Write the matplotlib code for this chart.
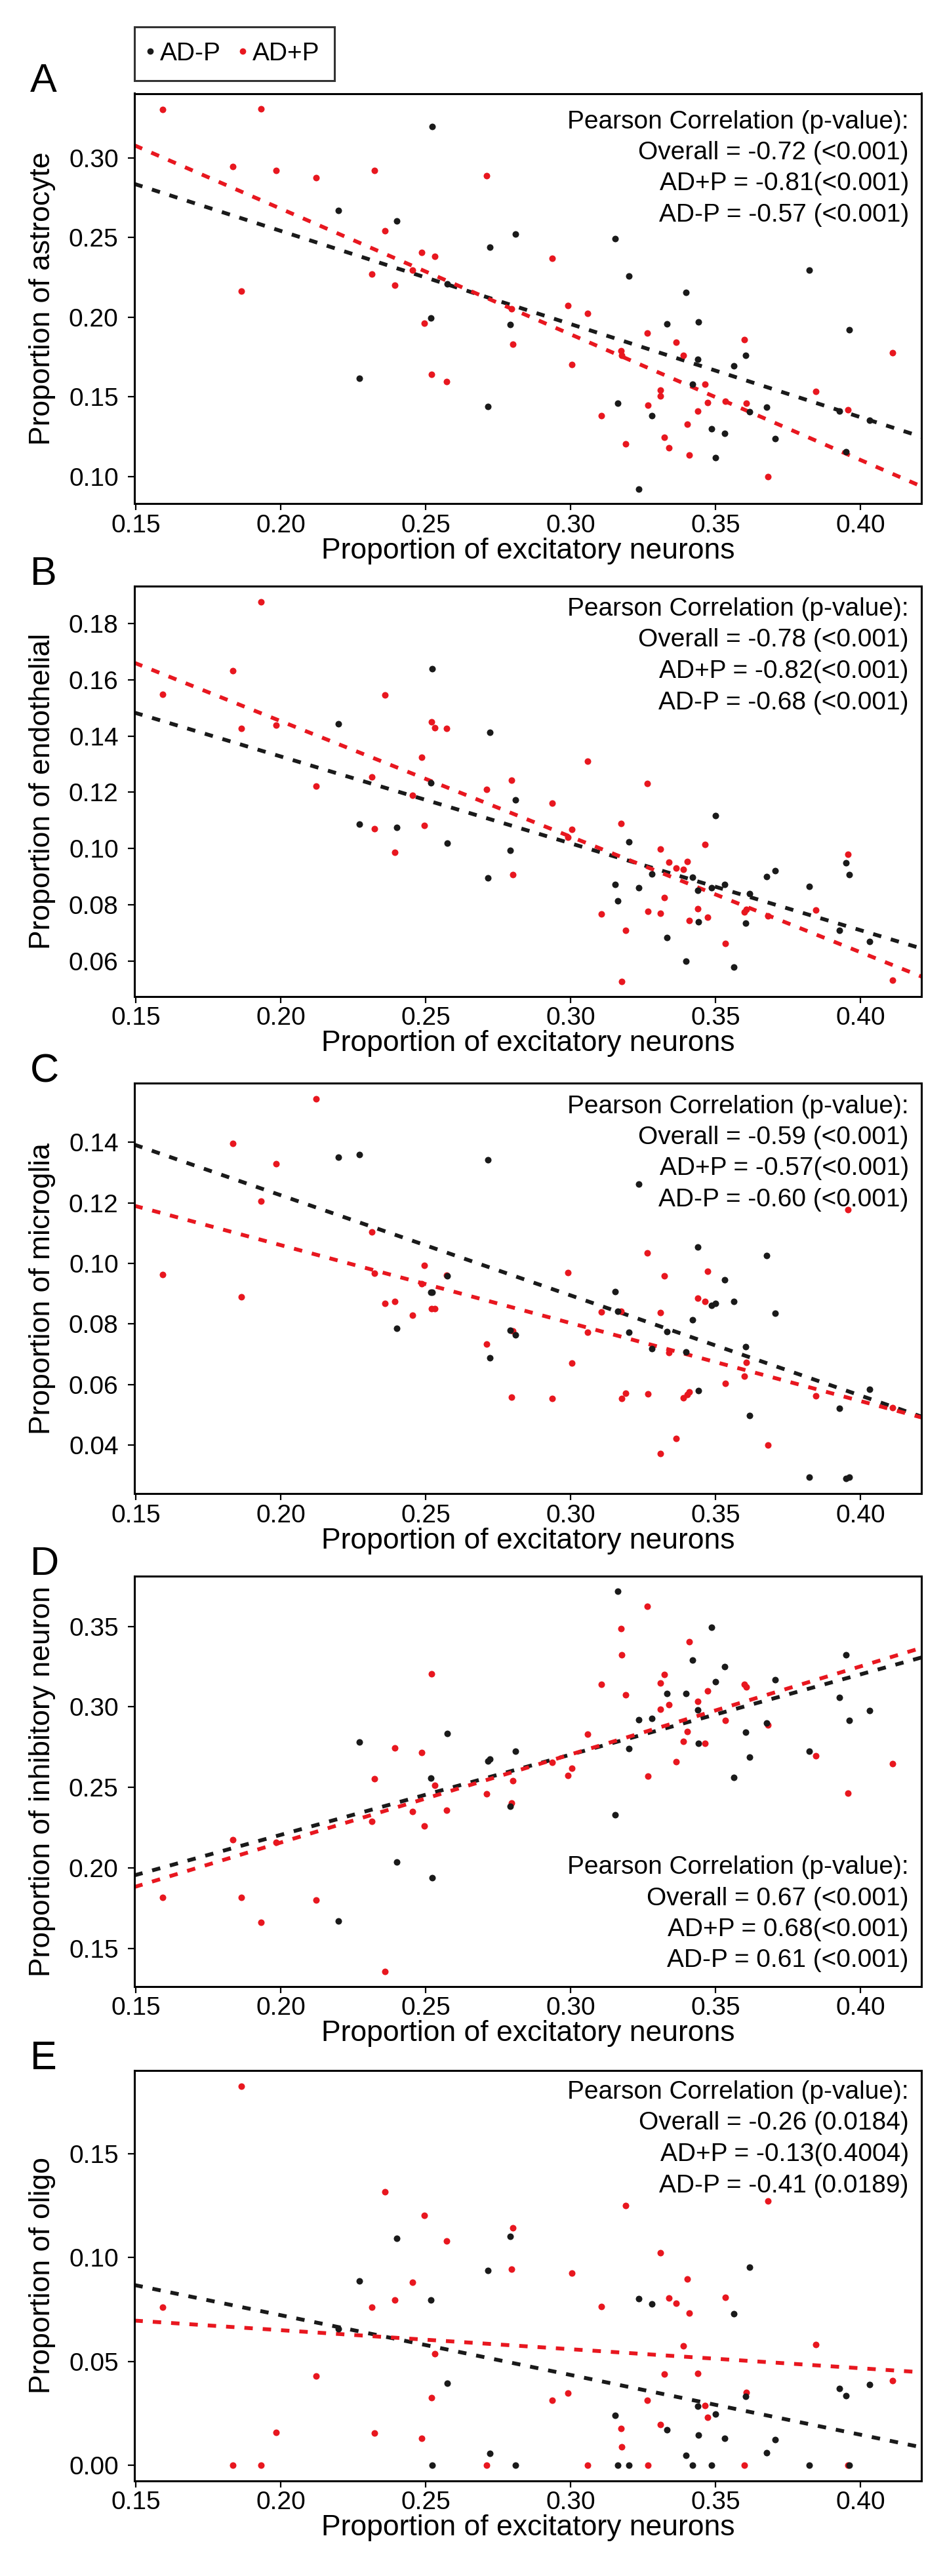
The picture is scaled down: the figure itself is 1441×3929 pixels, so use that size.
import matplotlib
matplotlib.use("Agg")
import matplotlib.pyplot as plt
from matplotlib.lines import Line2D
import numpy as np

plt.rcParams['font.family'] = ['Liberation Sans', 'DejaVu Sans']

# ---------------- data ----------------
groups = ["AD-P", "AD+P"]

red_x = [0.1592, 0.1835, 0.1864, 0.1931, 0.1983, 0.2121, 0.2314, 0.2324, 0.2360, 0.2393,
         0.2454, 0.2487, 0.2496, 0.2521, 0.2531, 0.2571, 0.2711, 0.2797, 0.2801, 0.2937,
         0.2990, 0.3004, 0.3059, 0.3105, 0.3174, 0.3176, 0.3190, 0.3264, 0.3266, 0.3310,
         0.3310, 0.3322, 0.3339, 0.3364, 0.3389, 0.3402, 0.3408, 0.3439, 0.3464, 0.3473,
         0.3534, 0.3598, 0.3607, 0.3680, 0.3845, 0.3957, 0.4111]

black_x = [0.2199, 0.2270, 0.2400, 0.2517, 0.2523, 0.2575, 0.2715, 0.2722, 0.2791, 0.2810,
           0.3153, 0.3163, 0.3201, 0.3234, 0.3280, 0.3333, 0.3398, 0.3421, 0.3439, 0.3441,
           0.3487, 0.3500, 0.3531, 0.3563, 0.3603, 0.3617, 0.3676, 0.3705, 0.3822, 0.3927,
           0.3950, 0.3962, 0.4031]

astro_red = [0.3305, 0.2948, 0.2165, 0.3309, 0.2920, 0.2876, 0.2270, 0.2920, 0.2542, 0.2202,
             0.2297, 0.2408, 0.1961, 0.1643, 0.2381, 0.1598, 0.2887, 0.2054, 0.1829, 0.2369,
             0.2072, 0.1703, 0.2023, 0.1384, 0.1790, 0.1761, 0.1204, 0.1899, 0.1447, 0.1542,
             0.1507, 0.1247, 0.1179, 0.1843, 0.1761, 0.1328, 0.1134, 0.1412, 0.1579, 0.1464,
             0.1474, 0.1860, 0.1462, 0.1000, 0.1536, 0.1421, 0.1777]
astro_black = [0.2672, 0.1616, 0.2604, 0.1994, 0.3196, 0.2210, 0.1439, 0.2439, 0.1955, 0.2522,
               0.2495, 0.1460, 0.2260, 0.0922, 0.1384, 0.1957, 0.2157, 0.1579, 0.1738, 0.1971,
               0.1301, 0.1120, 0.1270, 0.1695, 0.1761, 0.1408, 0.1437, 0.1239, 0.2295, 0.1412,
               0.1155, 0.1920, 0.1355]

endo_red = [0.1550, 0.1633, 0.1428, 0.1878, 0.1440, 0.1223, 0.1254, 0.1070, 0.1547, 0.0986,
            0.1189, 0.1325, 0.1082, 0.1451, 0.1430, 0.1428, 0.1210, 0.1243, 0.0906, 0.1162,
            0.1041, 0.1068, 0.1310, 0.0767, 0.1089, 0.0527, 0.0708, 0.1231, 0.0777, 0.0998,
            0.0770, 0.0826, 0.0952, 0.0930, 0.0925, 0.0953, 0.0743, 0.0785, 0.1015, 0.0756,
            0.0661, 0.0775, 0.0783, 0.0760, 0.0781, 0.0979, 0.0532]
endo_black = [0.1444, 0.1086, 0.1076, 0.1234, 0.1640, 0.1019, 0.0896, 0.1413, 0.0994, 0.1174,
              0.0871, 0.0813, 0.1024, 0.0861, 0.0910, 0.0682, 0.0598, 0.0897, 0.0851, 0.0738,
              0.0860, 0.1117, 0.0872, 0.0577, 0.0735, 0.0840, 0.0900, 0.0920, 0.0865, 0.0708,
              0.0950, 0.0908, 0.0669]

micro_red = [0.0962, 0.1397, 0.0890, 0.1206, 0.1328, 0.1543, 0.1104, 0.0968, 0.0867, 0.0875,
             0.0829, 0.0932, 0.0994, 0.0851, 0.0851, 0.0961, 0.0733, 0.0558, 0.0777, 0.0553,
             0.0970, 0.0671, 0.0773, 0.0840, 0.0842, 0.0553, 0.0572, 0.1035, 0.0570, 0.0837,
             0.0371, 0.0958, 0.0706, 0.0422, 0.0556, 0.0566, 0.0575, 0.0884, 0.0874, 0.0973,
             0.0603, 0.0628, 0.0672, 0.0400, 0.0563, 0.1178, 0.0524]
micro_black = [0.1351, 0.1359, 0.0785, 0.0904, 0.0904, 0.0958, 0.1341, 0.0689, 0.0778, 0.0764,
               0.0907, 0.0842, 0.0772, 0.1261, 0.0718, 0.0774, 0.0707, 0.0813, 0.1053, 0.0579,
               0.0862, 0.0867, 0.0945, 0.0874, 0.0725, 0.0498, 0.1025, 0.0836, 0.0294, 0.0522,
               0.0290, 0.0294, 0.0584]

inhib_red = [0.1818, 0.2175, 0.1818, 0.1663, 0.2159, 0.1798, 0.2289, 0.2552, 0.1355, 0.2746,
             0.2348, 0.2715, 0.2258, 0.3206, 0.2513, 0.2356, 0.2458, 0.2401, 0.2542, 0.2656,
             0.2574, 0.2617, 0.2831, 0.3141, 0.3488, 0.3325, 0.3076, 0.3626, 0.2570, 0.3147,
             0.2986, 0.3200, 0.3013, 0.2660, 0.2786, 0.2848, 0.3404, 0.3035, 0.2774, 0.3100,
             0.2917, 0.3139, 0.3125, 0.2886, 0.2697, 0.2462, 0.2646]
inhib_black = [0.1671, 0.2780, 0.2034, 0.2556, 0.1940, 0.2835, 0.2662, 0.2676, 0.2383, 0.2725,
               0.2330, 0.3720, 0.2742, 0.2921, 0.2927, 0.3084, 0.3084, 0.3292, 0.2980, 0.2774,
               0.3494, 0.3155, 0.3251, 0.2562, 0.2842, 0.2687, 0.2901, 0.3170, 0.2723, 0.3060,
               0.3323, 0.2917, 0.2978]

oligo_red = [0.0761, 0.0000, 0.1824, 0.0000, 0.0159, 0.0429, 0.0761, 0.0155, 0.1315, 0.0795,
             0.0880, 0.0128, 0.1202, 0.0324, 0.0538, 0.1078, 0.0000, 0.0944, 0.1143, 0.0314,
             0.0347, 0.0926, 0.0000, 0.0764, 0.0178, 0.0088, 0.1250, 0.0314, 0.0000, 0.1022,
             0.0196, 0.0440, 0.0805, 0.0779, 0.0576, 0.0898, 0.0731, 0.0443, 0.0288, 0.0232,
             0.0808, 0.0000, 0.0352, 0.1273, 0.0581, 0.0000, 0.0406]
oligo_black = [0.0658, 0.0887, 0.1093, 0.0797, 0.0000, 0.0394, 0.0939, 0.0056, 0.1101, 0.0000,
               0.0239, 0.0000, 0.0000, 0.0802, 0.0777, 0.0170, 0.0046, 0.0000, 0.0285, 0.0144,
               0.0000, 0.0245, 0.0128, 0.0730, 0.0332, 0.0952, 0.0059, 0.0124, 0.0000, 0.0370,
               0.0334, 0.0000, 0.0388]

panel_letters = ["A", "B", "C", "D", "E"]
y_labels = ["Proportion of astrocyte", "Proportion of endothelial", "Proportion of microglia",
            "Proportion of inhibitory neuron", "Proportion of oligo"]
x_label = "Proportion of excitatory neurons"
x_ticks = [0.15, 0.20, 0.25, 0.30, 0.35, 0.40]

y_ticks = [[0.10, 0.15, 0.20, 0.25, 0.30],
           [0.06, 0.08, 0.10, 0.12, 0.14, 0.16, 0.18],
           [0.04, 0.06, 0.08, 0.10, 0.12, 0.14],
           [0.15, 0.20, 0.25, 0.30, 0.35],
           [0.00, 0.05, 0.10, 0.15]]
y_lims = [(0.0831, 0.3405), (0.0474, 0.1934), (0.0240, 0.1594), (0.1264, 0.3812), (-0.0074, 0.1900)]

stats_text = [
    ["Pearson Correlation (p-value):", "Overall = -0.72 (<0.001)", "AD+P = -0.81(<0.001)", "AD-P = -0.57 (<0.001)"],
    ["Pearson Correlation (p-value):", "Overall = -0.78 (<0.001)", "AD+P = -0.82(<0.001)", "AD-P = -0.68 (<0.001)"],
    ["Pearson Correlation (p-value):", "Overall = -0.59 (<0.001)", "AD+P = -0.57(<0.001)", "AD-P = -0.60 (<0.001)"],
    ["Pearson Correlation (p-value):", "Overall = 0.67 (<0.001)", "AD+P = 0.68(<0.001)", "AD-P = 0.61 (<0.001)"],
    ["Pearson Correlation (p-value):", "Overall = -0.26 (0.0184)", "AD+P = -0.13(0.4004)", "AD-P = -0.41 (0.0189)"],
]

red_sets = [astro_red, endo_red, micro_red, inhib_red, oligo_red]
black_sets = [astro_black, endo_black, micro_black, inhib_black, oligo_black]

# ---------------- layout / style ----------------
W, H = 1441, 3929
RED = "#E8171F"
BLACK = "#1A1A1A"
XLIM = (0.1495, 0.4210)
AX_LEFT, AX_W, AX_H = 205, 1200, 625.5
panel_tops = [142.5, 894, 1652.5, 2404, 3158]
text_first_offset = [53, 45, 45, None, 43]   # px below top to first baseline
LINE_STEP = 47.5
DASH = (0, (2.2, 2.6))
LW = 4.2

fig = plt.figure(figsize=(W / 100, H / 100), dpi=100)

for i in range(5):
    top = panel_tops[i]
    ax = fig.add_axes([AX_LEFT / W, 1 - (top + AX_H) / H, AX_W / W, AX_H / H])
    rx, ry = np.array(red_x), np.array(red_sets[i])
    bx, by = np.array(black_x), np.array(black_sets[i])
    xs = np.array(XLIM)
    cb = np.polyfit(bx, by, 1)
    cr = np.polyfit(rx, ry, 1)
    ax.plot(xs, np.polyval(cb, xs), color=BLACK, lw=LW, ls=DASH, zorder=2)
    ax.plot(xs, np.polyval(cr, xs), color=RED, lw=LW, ls=DASH, zorder=2)
    ax.scatter(rx, ry, s=52, color=RED, linewidths=0, zorder=3)
    ax.scatter(bx, by, s=52, color=BLACK, linewidths=0, zorder=4)

    ax.set_xlim(*XLIM)
    ax.set_ylim(*y_lims[i])
    ax.set_xticks(x_ticks)
    ax.set_xticklabels(["%.2f" % v for v in x_ticks])
    ax.set_yticks(y_ticks[i])
    ax.set_yticklabels(["%.2f" % v for v in y_ticks[i]])
    ax.tick_params(axis='both', direction='out', length=7.5, width=1.6, labelsize=28, color='black')
    ax.tick_params(axis='x', pad=4)
    ax.tick_params(axis='y', pad=10)
    for sp in ax.spines.values():
        sp.set_linewidth(2.2)
        sp.set_color('black')

    ax.set_ylabel(y_labels[i], fontsize=32)
    ax.yaxis.set_label_coords(-0.10, 0.5)
    ax.set_xlabel(x_label, fontsize=32)
    ax.xaxis.set_label_coords(0.5, -0.083)

    # statistics text
    lines = stats_text[i]
    if text_first_offset[i] is None:
        for k, t in enumerate(lines):
            yb = (29 + (len(lines) - 1 - k) * LINE_STEP) / AX_H
            ax.text(0.984, yb, t, transform=ax.transAxes, ha='right', va='baseline', fontsize=28)
    else:
        for k, t in enumerate(lines):
            yb = 1 - (text_first_offset[i] + k * LINE_STEP) / AX_H
            ax.text(0.984, yb, t, transform=ax.transAxes, ha='right', va='baseline', fontsize=28)

    fig.text(46 / W, 1 - (top - 2) / H, panel_letters[i], fontsize=44, ha='left', va='baseline')

handles = [Line2D([], [], marker='o', ls='', color=BLACK, markersize=7, markeredgewidth=0),
           Line2D([], [], marker='o', ls='', color=RED, markersize=7, markeredgewidth=0)]
leg = fig.legend(handles, groups, loc='upper left', bbox_to_anchor=(205 / W, 1 - 41 / H),
                 bbox_transform=fig.transFigure, ncol=2, frameon=True, fancybox=False,
                 edgecolor='black', fontsize=28, handletextpad=0.36, columnspacing=0.82,
                 borderpad=0.59, handlelength=0.05, borderaxespad=0)
leg.get_frame().set_linewidth(2.2)

fig.savefig("out.png", dpi=100)
